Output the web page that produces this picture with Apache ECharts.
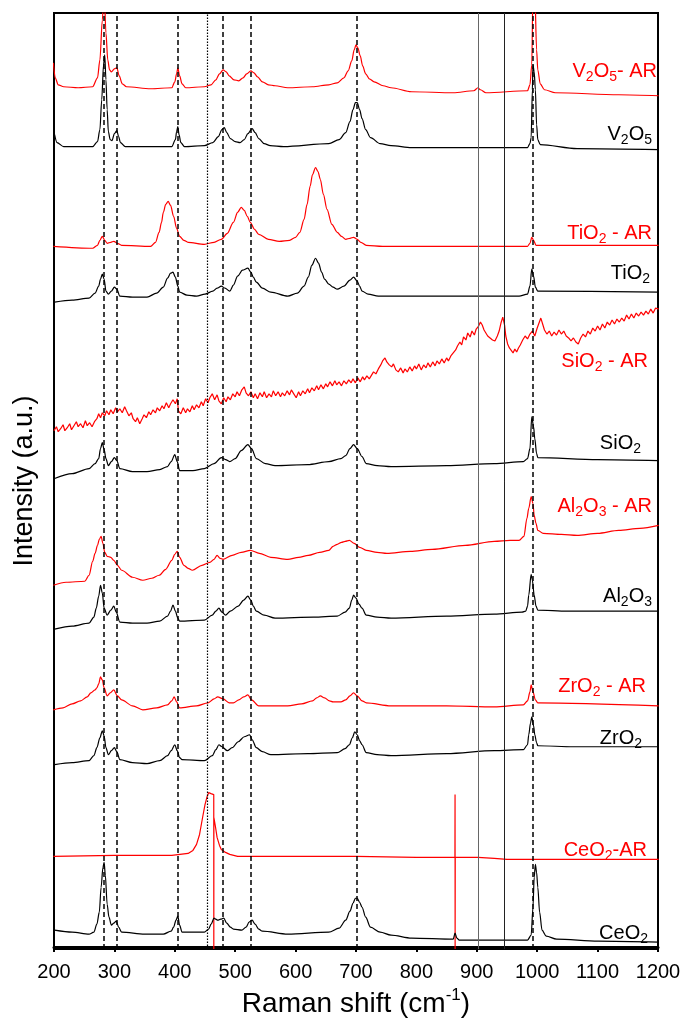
<!DOCTYPE html>
<html>
<head>
<meta charset="utf-8">
<script src="https://cdn.jsdelivr.net/npm/echarts@6/dist/echarts.min.js"></script>
<style>
html,body{margin:0;padding:0;background:#fff;}
#chart{width:689px;height:1023px;}
</style>
</head>
<body>
<div id="chart"></div>
<script>
// ---------- DATA (Raman shift cm-1, stacked intensity a.u.) ----------
const xTicks = [200, 300, 400, 500, 600, 700, 800, 900, 1000, 1100, 1200];
const dashedRefs = [283, 304, 405, 480, 525, 701, 993];
const dottedRefs = [454];
const solidRefs = [903, 945];

const sampleLabels = ['V_2O_5- AR', 'V_2O_5', 'TiO_2 - AR', 'TiO_2', 'SiO_2 - AR', 'SiO_2',
  'Al_2O_3 - AR', 'Al_2O_3', 'ZrO_2 - AR', 'ZrO_2', 'CeO_2-AR', 'CeO_2'];

const v2o5AR = [[199,887],[202,872],[207,865],[216,863],[240,862],[264,863],[272,872],[276,890],[280,930],[283,960],[286,917],[289,890],[292,880],[295,878],[300,881],[304,882],[308,874],[313,866],[320,863],[360,861],[395,862],[400,868],[403,876],[405,882],[408,874],[412,866],[418,862],[449,863],[460,865],[468,870],[474,876],[480,880],[485,878],[490,874],[498,870],[506,869],[513,872],[519,876],[526,879],[531,877],[537,873],[545,868],[555,865],[566,864],[587,862],[628,863],[655,865],[669,867],[680,872],[687,879],[693,889],[697,900],[700,905],[703,902],[707,894],[711,884],[716,876],[722,871],[730,868],[745,864],[758,862],[792,858],[861,857],[895,859],[902,862],[906,860],[915,857],[984,859],[988,865],[991,885],[993,960],[996,960],[999,900],[1001,880],[1005,866],[1012,860],[1030,857],[1135,855],[1201,854]];

const v2o5 = [[201,815],[205,807],[216,803],[264,803],[272,808],[276,820],[279,850],[282,885],[284,895],[286,870],[288,840],[290,818],[293,810],[296,809],[300,816],[304,819],[307,813],[310,807],[318,803],[395,803],[401,810],[403,818],[405,823],[407,815],[410,807],[416,803],[449,804],[463,807],[472,813],[478,820],[482,822],[486,817],[492,811],[500,808],[508,807],[515,810],[521,816],[528,821],[533,817],[539,811],[548,806],[558,804],[580,803],[655,806],[672,810],[683,817],[690,828],[695,840],[699,847],[702,847],[706,840],[710,831],[716,820],[724,812],[740,806],[758,804],[792,802],[984,802],[988,806],[990,812],[992,860],[993,885],[995,878],[997,860],[999,825],[1001,810],[1005,805],[1066,801],[1201,800]];

const tio2AR = [[199,703],[264,701],[272,704],[276,709],[280,713],[284,709],[288,706],[294,707],[299,708],[305,706],[312,704],[360,703],[368,707],[374,717],[378,727],[381,737],[385,745],[389,748],[393,744],[398,733],[403,721],[408,713],[415,709],[422,707],[449,705],[465,707],[477,710],[487,716],[497,727],[504,737],[510,742],[515,739],[520,733],[525,727],[532,720],[539,715],[555,710],[573,708],[590,709],[600,712],[607,717],[614,730],[619,745],[624,763],[628,775],[633,782],[637,778],[641,770],[646,755],[652,740],[660,725],[669,717],[676,713],[683,710],[690,711],[696,712],[702,710],[708,707],[717,704],[744,703],[984,703],[988,706],[991,712],[994,709],[998,704],[1201,704]];

const tio2 = [[201,647],[230,649],[258,651],[268,656],[274,663],[277,670],[280,675],[283,670],[286,658],[290,655],[295,658],[300,662],[304,660],[309,653],[330,652],[354,652],[370,656],[381,662],[388,671],[393,676],[397,677],[401,672],[405,663],[408,657],[420,654],[436,653],[450,655],[463,658],[470,661],[477,663],[483,661],[491,658],[497,664],[504,673],[512,679],[521,681],[526,677],[530,672],[535,667],[545,661],[559,657],[587,653],[603,656],[614,663],[621,672],[627,684],[633,691],[638,686],[643,677],[648,670],[655,665],[662,662],[669,660],[680,663],[690,669],[696,672],[702,668],[706,663],[710,658],[720,655],[737,653],[970,653],[984,655],[988,663],[991,680],[994,673],[997,662],[1001,658],[1201,657]];

const sio2AR = [[200,518],[204,522],[207,517],[211,520],[215,524],[218,518],[222,521],[226,525],[229,519],[233,523],[237,527],[240,522],[244,525],[248,521],[252,528],[255,523],[259,526],[263,522],[267,527],[271,530],[274,535],[277,531],[280,536],[284,533],[287,538],[291,534],[294,539],[298,535],[302,541],[305,537],[309,540],[313,536],[317,542],[320,538],[324,533],[328,536],[331,530],[335,527],[338,531],[342,525],[346,530],[349,534],[353,531],[357,537],[360,534],[364,539],[368,536],[371,541],[375,538],[379,543],[382,540],[386,546],[390,541],[393,545],[397,549],[401,545],[404,550],[406,538],[410,535],[414,541],[418,536],[421,540],[425,537],[429,543],[432,539],[436,544],[440,541],[444,547],[447,543],[451,550],[455,546],[458,551],[462,555],[466,549],[470,554],[473,548],[477,545],[481,551],[485,547],[488,552],[492,549],[496,555],[500,552],[503,557],[507,553],[511,559],[515,562],[518,556],[522,553],[526,557],[530,551],[533,555],[537,550],[541,556],[545,552],[548,557],[552,551],[556,555],[560,552],[563,558],[567,553],[571,557],[575,552],[578,556],[582,553],[586,558],[590,554],[593,559],[597,555],[601,551],[605,557],[608,553],[612,558],[616,555],[620,560],[623,556],[627,561],[631,558],[635,563],[638,559],[642,564],[646,560],[650,565],[653,562],[657,567],[661,563],[665,568],[668,564],[672,567],[676,563],[680,568],[684,565],[688,569],[692,566],[695,570],[699,566],[703,571],[707,567],[711,572],[714,569],[718,573],[722,570],[726,574],[729,577],[733,575],[737,580],[741,584],[744,588],[748,591],[751,587],[755,584],[759,582],[762,585],[766,579],[770,577],[774,581],[778,576],[781,580],[785,577],[789,582],[793,578],[797,583],[800,580],[804,585],[808,579],[812,584],[816,581],[819,586],[823,582],[827,587],[831,583],[834,588],[838,585],[842,590],[846,586],[850,591],[853,588],[857,593],[861,596],[865,599],[868,603],[872,607],[875,604],[878,612],[882,609],[885,616],[889,612],[892,618],[896,614],[899,620],[903,623],[906,627],[909,624],[912,619],[915,616],[918,613],[922,611],[926,609],[930,608],[934,613],[937,618],[940,626],[943,632],[946,624],[948,613],[951,605],[954,601],[957,599],[960,596],[963,600],[966,597],[969,601],[972,604],[976,609],[980,613],[984,610],[988,615],[992,618],[996,613],[1000,621],[1003,626],[1006,631],[1009,625],[1012,619],[1016,615],[1020,618],[1024,613],[1028,617],[1032,614],[1036,619],[1040,615],[1044,618],[1048,613],[1052,611],[1056,608],[1060,611],[1064,607],[1068,605],[1072,611],[1076,615],[1080,612],[1084,618],[1088,615],[1092,621],[1096,618],[1100,623],[1104,619],[1108,625],[1112,621],[1116,627],[1120,624],[1124,629],[1128,625],[1132,630],[1136,627],[1140,631],[1144,628],[1148,634],[1152,630],[1156,635],[1160,631],[1164,636],[1168,633],[1172,637],[1176,634],[1180,638],[1184,635],[1188,640],[1192,636],[1196,641],[1201,640]];

const sio2 = [[201,470],[230,475],[258,480],[268,485],[274,490],[277,500],[280,506],[283,499],[286,490],[290,483],[295,487],[300,491],[304,488],[309,480],[330,477],[354,477],[375,479],[388,482],[394,487],[400,494],[404,487],[408,478],[430,478],[449,480],[465,485],[477,491],[484,489],[491,487],[500,490],[510,498],[521,504],[527,500],[535,490],[550,485],[566,483],[620,484],[655,487],[675,490],[683,493],[690,500],[696,504],[702,500],[710,492],[717,485],[735,483],[758,482],[850,483],[929,485],[977,487],[984,490],[988,500],[991,532],[994,522],[996,510],[999,495],[1001,491],[1100,489],[1201,488]];

const al2o3AR = [[199,363],[220,366],[251,367],[258,373],[264,387],[268,395],[272,403],[275,409],[278,412],[281,405],[284,396],[288,392],[294,391],[299,388],[305,383],[312,378],[330,371],[347,368],[362,370],[374,373],[385,379],[395,388],[400,394],[404,397],[408,391],[415,383],[422,380],[429,378],[445,383],[458,386],[465,389],[470,393],[475,390],[480,389],[495,393],[510,396],[525,398],[540,395],[559,391],[587,389],[605,391],[621,393],[640,396],[655,398],[662,402],[669,404],[676,406],[682,407],[689,408],[697,405],[706,401],[717,398],[735,396],[751,395],[790,397],[826,399],[881,403],[929,407],[955,408],[970,408],[978,412],[983,430],[986,440],[990,452],[993,445],[995,433],[998,425],[1001,418],[1010,415],[1040,414],[1066,413],[1100,415],[1135,418],[1170,420],[1201,423]];

const al2o3 = [[201,319],[230,322],[258,325],[266,331],[270,340],[274,352],[277,363],[280,355],[283,340],[288,333],[294,338],[299,342],[303,336],[309,326],[330,325],[354,325],[375,327],[388,332],[393,337],[397,343],[401,337],[405,330],[408,327],[449,328],[462,333],[468,337],[473,340],[478,336],[484,333],[492,337],[505,342],[514,348],[521,352],[526,348],[530,342],[535,337],[548,333],[566,330],[630,331],[669,332],[682,336],[689,340],[693,348],[696,353],[700,350],[705,344],[710,340],[717,333],[735,331],[758,330],[850,332],[929,334],[975,336],[981,337],[984,342],[986,353],[990,374],[992,368],[995,353],[998,342],[1001,338],[1050,337],[1201,337]];

const zro2AR = [[199,238],[215,240],[230,244],[244,247],[255,251],[261,255],[268,258],[271,260],[274,264],[277,271],[280,268],[283,260],[288,252],[293,255],[299,258],[305,252],[312,248],[330,242],[347,238],[370,240],[388,243],[395,247],[399,251],[403,246],[408,240],[436,242],[455,245],[465,249],[471,251],[480,249],[490,245],[497,245],[506,248],[514,251],[521,253],[527,248],[539,242],[587,242],[610,244],[628,247],[635,250],[641,252],[648,250],[656,247],[662,246],[675,246],[683,248],[690,252],[696,255],[702,252],[710,247],[717,245],[758,242],[850,242],[929,241],[977,243],[984,247],[988,256],[990,263],[993,256],[997,248],[1001,245],[1201,242]];

const zro2 = [[201,183],[230,185],[258,187],[266,192],[271,200],[276,210],[280,217],[283,212],[286,200],[290,193],[295,197],[300,200],[304,196],[309,188],[330,185],[354,184],[375,187],[388,192],[394,197],[400,203],[404,197],[408,190],[412,188],[449,187],[462,192],[468,198],[473,203],[478,201],[487,197],[495,200],[505,206],[515,211],[524,213],[528,208],[535,200],[545,196],[559,193],[620,194],[669,195],[682,199],[689,203],[694,210],[698,216],[702,213],[706,207],[710,203],[717,195],[735,193],[758,192],[850,194],[929,197],[977,198],[984,203],[986,213],[989,225],[991,231],[994,222],[996,213],[999,205],[1001,202],[1060,201],[1201,201]];

const ceo2AR = [[199,91],[300,92],[395,92],[422,94],[430,97],[436,103],[441,113],[446,130],[450,143],[453,150],[456,155],[460,154],[464.5,153],[464.6,-2],[464.7,130],[467,122],[470,110],[474,102],[477,98],[484,95],[491,93],[504,91],[600,91],[700,91],[800,90],[863.8,90],[864,153],[864.1,-2],[864.3,90],[902,90],[929,89],[950,88],[1201,88]];

const ceo2 = [[201,17],[230,15],[258,13],[266,15],[271,23],[275,35],[278,60],[281,80],[283,85],[285,72],[288,43],[291,30],[295,22],[299,24],[303,26],[307,20],[312,15],[350,13],[381,13],[394,16],[398,20],[402,27],[405,31],[408,22],[412,15],[449,15],[456,18],[460,23],[465,29],[468,28],[471,27],[476,28],[481,29],[486,24],[492,20],[497,18],[511,17],[518,20],[523,25],[528,27],[533,23],[539,18],[545,16],[587,13],[655,15],[672,19],[683,27],[690,36],[695,44],[699,49],[702,49],[706,45],[710,40],[716,30],[724,20],[740,15],[758,12],[792,9],[861,8],[864,14],[867,9],[871,7],[984,7],[990,12],[993,40],[995,70],[997,83],[999,75],[1001,60],[1004,35],[1008,17],[1015,11],[1032,8],[1101,6],[1201,5]];

// ---------- CHART ----------
const FONT = "'Liberation Sans', Arial, sans-serif";
const RED = '#ff0000';
const BLACK = '#000000';

const seriesData = [
  [v2o5AR, RED, true], [v2o5, BLACK, true], [tio2AR, RED, true], [tio2, BLACK, true],
  [sio2AR, RED, false], [sio2, BLACK, true], [al2o3AR, RED, true], [al2o3, BLACK, true],
  [zro2AR, RED, true], [zro2, BLACK, true], [ceo2AR, RED, false], [ceo2, BLACK, true]
];

function refLine(x, type, color, width) {
  return { xAxis: x, lineStyle: { type: type, color: color, width: width } };
}
const markLineData = []
  .concat(dashedRefs.map(x => refLine(x, [5, 3], '#000', 1.5)))
  .concat(dottedRefs.map(x => refLine(x, [1.5, 1.5], '#000', 1.2)))
  .concat(solidRefs.map((x, i) => refLine(x, 'solid', i === 0 ? '#666' : '#222', 1)));

const series = seriesData.map((s, i) => ({
  type: 'line',
  data: s[0],
  showSymbol: false,
  symbol: 'none',
  clip: true,
  smooth: s[2] ? 0.3 : false,
  smoothMonotone: 'x',
  lineStyle: { color: s[1], width: 1.2 },
  itemStyle: { color: s[1] },
  silent: true,
  z: 3,
  markLine: i === 0 ? {
    silent: true, symbol: ['none', 'none'], label: { show: false },
    animation: false, data: markLineData
  } : undefined
}));

function toRich(label) {
  return label.split(/(_\d)/).filter(t => t.length).map(t =>
    t[0] === '_' ? '{s|' + t.slice(1) + '}' : '{n|' + t + '}').join('');
}

// annotation layout (pixel right edge, pixel baseline)
const labelLayout = [
  [657, 78], [652, 141], [652, 240], [650, 280], [648, 368], [641, 450],
  [652, 513], [652, 603], [646, 693], [642, 745], [647, 857], [648, 940]
];
const graphics = sampleLabels.map((lab, i) => {
  const col = i % 2 === 0 ? RED : BLACK;
  return {
    type: 'text',
    x: labelLayout[i][0],
    y: labelLayout[i][1] - 7,
    z: 10,
    silent: true,
    style: {
      text: toRich(lab),
      align: 'right',
      verticalAlign: 'middle',
      fill: col,
      font: '20px ' + FONT,
      rich: {
        n: { fontSize: 20, fontFamily: FONT, fill: col, lineHeight: 26, verticalAlign: 'middle' },
        s: { fontSize: 14, fontFamily: FONT, fill: col, verticalAlign: 'bottom' }
      }
    }
  };
});

const chart = echarts.init(document.getElementById('chart'), null, { renderer: 'canvas' });
chart.setOption({
  animation: false,
  backgroundColor: '#fff',
  grid: { left: 54, right: 31, top: 13, bottom: 71, show: true, borderColor: '#000', borderWidth: 2, containLabel: false },
  xAxis: {
    type: 'value', min: xTicks[0], max: xTicks[xTicks.length - 1], interval: 100,
    name: '{n|Raman shift (cm}{p|-1}{n|)}',
    nameLocation: 'middle', nameGap: 37,
    nameTextStyle: {
      fontFamily: FONT, color: '#000', fontSize: 28,
      rich: {
        n: { fontSize: 28, fontFamily: FONT, color: '#000', lineHeight: 34, verticalAlign: 'middle' },
        p: { fontSize: 17, fontFamily: FONT, color: '#000', verticalAlign: 'top' }
      }
    },
    axisLine: { show: true, lineStyle: { color: '#000', width: 3 } },
    axisTick: { show: true, inside: false, length: 5, lineStyle: { color: '#000', width: 2 } },
    axisLabel: { fontFamily: FONT, fontSize: 20, color: '#000', margin: 13, formatter: v => String(v) },
    splitLine: { show: false }
  },
  yAxis: {
    type: 'value', min: -2, max: 937,
    name: 'Intensity (a.u.)', nameLocation: 'middle', nameGap: 16,
    nameTextStyle: { fontFamily: FONT, color: '#000', fontSize: 27 },
    axisLine: { show: false }, axisTick: { show: false }, axisLabel: { show: false },
    splitLine: { show: false }
  },
  series: series,
  graphic: graphics
});
</script>
</body>
</html>
